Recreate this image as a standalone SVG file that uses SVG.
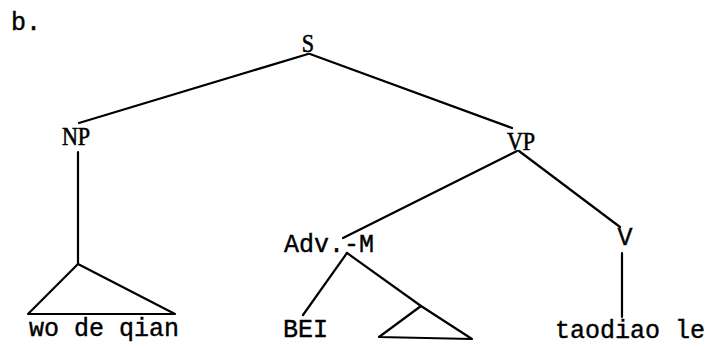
<svg xmlns="http://www.w3.org/2000/svg" width="712" height="347" viewBox="0 0 712 347">
<style>
.serif{font-family:"Liberation Serif","Times New Roman",serif;font-size:26px;fill:#000;stroke:#000;stroke-width:0.6;text-anchor:middle}
.mono{font-family:"Liberation Mono","Courier New",monospace;font-size:25px;fill:#000;stroke:#000;stroke-width:0.4}
.ln{stroke:#000;stroke-width:2.2;fill:none;stroke-linecap:round;stroke-linejoin:round}
</style>
<rect width="712" height="347" fill="#fff"/>
<text class="mono" x="11" y="30">b.</text>
<g id="connectors">
<line class="ln" x1="308" y1="54" x2="79" y2="123"/>
<line class="ln" x1="310" y1="54" x2="512" y2="128"/>
<line class="ln" x1="517" y1="151" x2="343" y2="238"/>
<line class="ln" x1="519" y1="151" x2="620" y2="227"/>
<line class="ln" x1="78" y1="152" x2="78" y2="264"/>
<line class="ln" x1="347" y1="253" x2="303" y2="315"/>
<line class="ln" x1="347" y1="253" x2="421" y2="306"/>
<line class="ln" x1="622" y1="253" x2="622" y2="317"/>
</g>
<g id="S"><text class="serif" transform="translate(308,52) scale(0.85,1)">S</text></g>
<g id="NP"><text class="serif" transform="translate(76,145) scale(0.85,1)">NP</text></g>
<g id="VP"><text class="serif" transform="translate(521,150) scale(0.85,1)">VP</text></g>
<g id="NP-tri">
<polygon class="ln" points="78,264 28,314 175,314"/>
<text class="mono" x="29" y="336">wo de qian</text>
</g>
<g id="AdvM"><text class="mono" x="284" y="252">Adv.-M</text></g>
<g id="BEI"><text class="mono" x="283" y="337">BEI</text></g>
<g id="small-tri"><polygon class="ln" points="421,306 379,337 472,339"/></g>
<g id="V"><text class="mono" x="625" y="245" text-anchor="middle">V</text></g>
<g id="taodiao"><text class="mono" x="555" y="338">taodiao le</text></g>
</svg>
